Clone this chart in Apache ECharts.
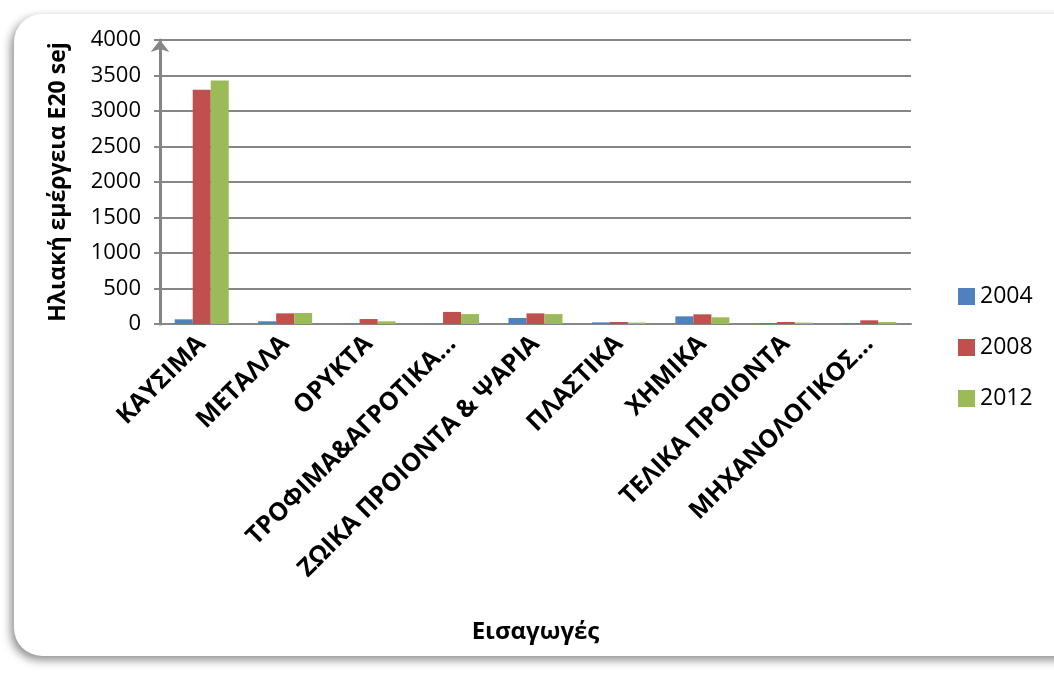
<!DOCTYPE html>
<html lang="el">
<head>
    <meta charset="UTF-8">
    <title>Ηλιακή εμέργεια - Εισαγωγές</title>
    <script src="https://cdn.jsdelivr.net/npm/echarts/dist/echarts.min.js"></script>
    <style>
        html, body { margin: 0; padding: 0; background: #fff; }
    </style>
</head>
<body>
    <div id="chart" style="width: 1054px; height: 675px;"></div>

    <script>
        const categories = ['ΚΑΥΣΙΜΑ', 'ΜΕΤΑΛΛΑ', 'ΟΡΥΚΤΑ', 'ΤΡΟΦΙΜΑ&ΑΓΡΟΤΙΚΑ...', 'ΖΩΙΚΑ ΠΡΟΙΟΝΤΑ & ΨΑΡΙΑ',
            'ΠΛΑΣΤΙΚΑ', 'ΧΗΜΙΚΑ', 'ΤΕΛΙΚΑ ΠΡΟΙΟΝΤΑ', 'ΜΗΧΑΝΟΛΟΓΙΚΟΣ...'];
        const years = ['2004', '2008', '2012'];
        const values2004 = [66, 38, 5, 3, 85, 23, 108, 14, 10];
        const values2008 = [3300, 150, 70, 170, 150, 28, 136, 28, 52];
        const values2012 = [3430, 155, 38, 140, 140, 20, 94, 20, 28];
        const colors = ['#4F81BD', '#C0504D', '#9BBB59'];

        const font = '"Open Sans", "Noto Sans", sans-serif';
        let chart = echarts.init(document.getElementById('chart'));

        let option = {
            animation: false,
            backgroundColor: '#fff',
            textStyle: { fontFamily: font },
            graphic: [{
                type: 'rect',
                z: -10,
                shape: { x: 14, y: 14, width: 1080, height: 642, r: 28 },
                style: {
                    fill: '#fff',
                    shadowColor: 'rgba(0,0,0,0.45)',
                    shadowBlur: 10,
                    shadowOffsetX: -3,
                    shadowOffsetY: 4
                }
            }],
            legend: {
                orient: 'vertical',
                left: 953,
                top: 280,
                itemWidth: 17,
                itemHeight: 17,
                itemGap: 28,
                icon: 'rect',
                data: years,
                textStyle: { fontSize: 23, color: '#000', fontFamily: font }
            },
            grid: { left: 160, right: 143, top: 40, bottom: 351 },
            xAxis: {
                type: 'category',
                data: categories,
                name: 'Εισαγωγές',
                nameLocation: 'middle',
                nameGap: 296,
                nameTextStyle: { fontSize: 24, fontWeight: 'bold', color: '#000', fontFamily: font },
                axisLine: { lineStyle: { color: '#868686', width: 2 } },
                axisTick: { show: false },
                axisLabel: {
                    rotate: 45,
                    interval: 0,
                    fontSize: 25,
                    fontWeight: 'bold',
                    color: '#000',
                    margin: 16,
                    fontFamily: font
                }
            },
            yAxis: {
                type: 'value',
                min: 0,
                max: 4000,
                interval: 500,
                name: 'Ηλιακή εμέργεια Ε20 sej',
                nameLocation: 'middle',
                nameGap: 90,
                nameTextStyle: { fontSize: 23, fontWeight: 'bold', color: '#000', fontFamily: font },
                axisLine: {
                    show: true,
                    symbol: ['none', 'arrow'],
                    symbolSize: [14, 12],
                    lineStyle: { color: '#868686', width: 3 }
                },
                axisTick: { show: true, length: 6, lineStyle: { color: '#868686', width: 2 } },
                axisLabel: {
                    fontSize: 22,
                    color: '#000',
                    margin: 19,
                    fontFamily: font,
                    formatter: v => String(v)
                },
                splitLine: { lineStyle: { color: '#868686', width: 2 } }
            },
            series: [
                { name: years[0], type: 'bar', data: values2004, itemStyle: { color: colors[0] }, barWidth: 18, barGap: '0%' },
                { name: years[1], type: 'bar', data: values2008, itemStyle: { color: colors[1] }, barWidth: 18, barGap: '0%' },
                { name: years[2], type: 'bar', data: values2012, itemStyle: { color: colors[2] }, barWidth: 18, barGap: '0%' }
            ]
        };

        chart.setOption(option);
    </script>
</body>
</html>
